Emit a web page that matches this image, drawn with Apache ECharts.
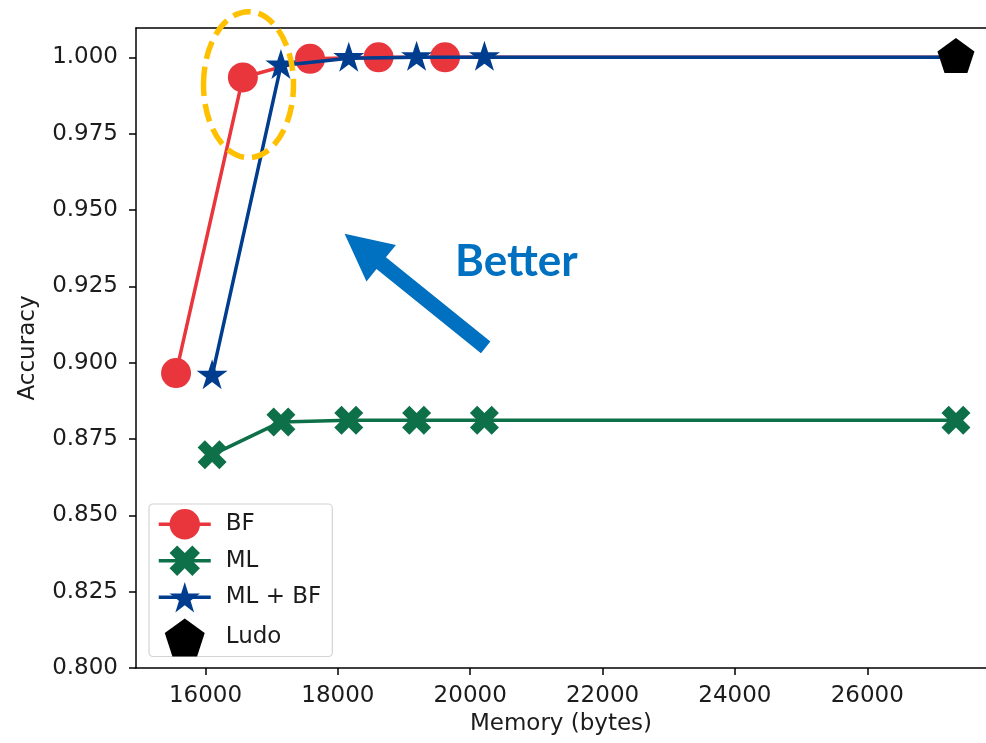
<!DOCTYPE html>
<html>
<head>
<meta charset="utf-8">
<script src="https://cdn.jsdelivr.net/npm/echarts@6/dist/echarts.min.js"></script>
<style>
  html, body { margin: 0; padding: 0; background: #fff; }
  #chart { width: 986px; height: 743px; }
</style>
</head>
<body>
<div id="chart"></div>
<script>
// Accuracy versus memory footprint for each filter configuration
const bfMemory = [15555, 16565, 17580, 18615, 19620, 27340];
const bfAccuracy = [0.8966, 0.9934, 0.9995, 1.0, 1.0, 1.0];

const mlMemory = [16100, 17140, 18165, 19190, 20215, 27340];
const mlAccuracy = [0.8698, 0.8806, 0.8811, 0.8811, 0.8811, 0.8811];

const mlbfMemory = [16100, 17140, 18165, 19190, 20215, 27340];
const mlbfAccuracy = [0.8957, 0.9973, 0.9997, 1.0, 1.0, 1.0];

const ludoMemory = [27340];
const ludoAccuracy = [1.0];

const xTicks = [16000, 18000, 20000, 22000, 24000, 26000];
const yTicks = [0.8, 0.825, 0.85, 0.875, 0.9, 0.925, 0.95, 0.975, 1.0];

const seriesNames = ['BF', 'ML', 'ML + BF', 'Ludo'];

// Visible memory window; the plot's right spine lies just past the canvas edge
const X_MIN = 14950;
const X_MAX = 27794;

// Marker outlines (regular star, filled X, regular pentagon)
const STAR = 'path://M100,0L122.45,69.1L195.11,69.1L136.33,111.8L158.78,180.9L100,138.2L41.22,180.9L63.67,111.8L4.89,69.1L77.55,69.1Z';
const XMARK = 'path://M150,0L200,50L150,100L200,150L150,200L100,150L50,200L0,150L50,100L0,50L50,0L100,50Z';
const PENTAGON = 'path://M100,0L195.11,69.1L158.78,180.9L41.22,180.9L4.89,69.1Z';

const RED = '#E8363C';
const GREEN = '#0E7049';
const BLUE = '#003D8F';
const TEXT = '#1c1c1c';
const FONT = 'DejaVu Sans';

const pairs = (xs, ys) => xs.map((x, i) => [x, ys[i]]);

const chart = echarts.init(document.getElementById('chart'), null, { renderer: 'canvas' });

const spine = { show: true, lineStyle: { color: '#000', width: 1.5 } };

const option = {
  animation: false,
  backgroundColor: '#ffffff',
  grid: { left: 136, top: 28, right: 0, bottom: 75, show: false },
  xAxis: [
    {
      type: 'value',
      min: X_MIN, max: X_MAX,
      name: 'Memory (bytes)',
      nameLocation: 'middle',
      nameGap: 45,
      nameTextStyle: { fontFamily: FONT, fontSize: 23, color: TEXT },
      axisLine: spine,
      axisTick: { show: true, length: 7, lineStyle: { color: '#000', width: 1.5 }, customValues: xTicks },
      axisLabel: {
        fontFamily: FONT, fontSize: 23, color: TEXT, margin: 17,
        customValues: xTicks,
        formatter: v => String(Math.round(v))
      },
      splitLine: { show: false }
    },
    {
      // top spine only
      type: 'value', position: 'top',
      min: X_MIN, max: X_MAX,
      axisLine: spine,
      axisTick: { show: false },
      axisLabel: { show: false },
      splitLine: { show: false }
    }
  ],
  yAxis: {
    type: 'value',
    min: 0.8, max: 1.0096,
    name: 'Accuracy',
    nameLocation: 'middle',
    nameRotate: 90,
    nameGap: 96,
    nameTextStyle: { fontFamily: FONT, fontSize: 23, color: TEXT },
    axisLine: spine,
    axisTick: { show: true, length: 7, lineStyle: { color: '#000', width: 1.5 }, customValues: yTicks },
    axisLabel: {
      fontFamily: FONT, fontSize: 23, color: TEXT, margin: 18,
      customValues: yTicks,
      formatter: v => Number(v).toFixed(3)
    },
    splitLine: { show: false }
  },
  legend: {
    orient: 'vertical',
    left: 149, top: 504,
    data: seriesNames,
    itemWidth: 52, itemHeight: 38, itemGap: 6.1,
    padding: [5, 11, 0, 8],
    borderColor: '#d4d4d4', borderWidth: 1.2, borderRadius: 4,
    backgroundColor: 'rgba(255,255,255,0.8)',
    lineStyle: { width: 3.5 },
    textStyle: { fontFamily: FONT, fontSize: 23, color: TEXT, padding: [0, 0, 0, 10] }
  },
  series: [
    {
      name: 'BF', type: 'line', z: 2,
      data: pairs(bfMemory, bfAccuracy),
      symbol: 'circle', symbolSize: 30,
      lineStyle: { color: RED, width: 3.5 },
      itemStyle: { color: RED }
    },
    {
      name: 'ML', type: 'line', z: 3,
      data: pairs(mlMemory, mlAccuracy),
      symbol: XMARK, symbolSize: 29,
      lineStyle: { color: GREEN, width: 3.5 },
      itemStyle: { color: GREEN }
    },
    {
      name: 'ML + BF', type: 'line', z: 4,
      data: pairs(mlbfMemory, mlbfAccuracy),
      symbol: STAR, symbolSize: [31, 30], symbolOffset: [0, -1.6],
      lineStyle: { color: BLUE, width: 3.5 },
      itemStyle: { color: BLUE }
    },
    {
      name: 'Ludo', type: 'scatter', z: 10,
      data: pairs(ludoMemory, ludoAccuracy),
      symbol: PENTAGON, symbolSize: [37, 35], symbolOffset: [0, -1.8],
      itemStyle: { color: '#000', opacity: 1 }
    }
  ]
};

chart.setOption(option);

// Annotations placed in data space: highlight ring, direction arrow and caption
const toPx = (x, y) => chart.convertToPixel({ xAxisIndex: 0, yAxisIndex: 0 }, [x, y]);

const ringCenter = toPx(16650, 0.99105);
const arrowTip = toPx(18102, 0.94222);
const arrowTail = toPx(20234, 0.90503);
const captionAt = toPx(20698, 0.9330);

function arrowPoints(tip, tail, shaftHalf, headLen, headHalf) {
  const dx = tip[0] - tail[0], dy = tip[1] - tail[1];
  const len = Math.hypot(dx, dy);
  const ux = dx / len, uy = dy / len;
  const nx = -uy, ny = ux;
  const neck = [tip[0] - ux * headLen, tip[1] - uy * headLen];
  return [
    [tail[0] + nx * shaftHalf, tail[1] + ny * shaftHalf],
    [neck[0] + nx * shaftHalf, neck[1] + ny * shaftHalf],
    [neck[0] + nx * headHalf, neck[1] + ny * headHalf],
    tip,
    [neck[0] - nx * headHalf, neck[1] - ny * headHalf],
    [neck[0] - nx * shaftHalf, neck[1] - ny * shaftHalf],
    [tail[0] - nx * shaftHalf, tail[1] - ny * shaftHalf]
  ];
}

chart.setOption({
  graphic: [
    {
      type: 'ellipse', z: 100,
      shape: { cx: ringCenter[0], cy: ringCenter[1], rx: 45, ry: 73 },
      style: { fill: 'none', stroke: '#FFC000', lineWidth: 5.5, lineDash: [18, 8] }
    },
    {
      type: 'polygon', z: 100,
      shape: { points: arrowPoints(arrowTip, arrowTail, 7.5, 47, 23.5) },
      style: { fill: '#0070C0' }
    },
    {
      type: 'text', z: 100,
      x: captionAt[0], y: captionAt[1],
      style: {
        text: 'Better', fill: '#0070C0',
        font: 'bold 44px Lato',
        align: 'center', verticalAlign: 'middle'
      }
    }
  ]
});
</script>
</body>
</html>
